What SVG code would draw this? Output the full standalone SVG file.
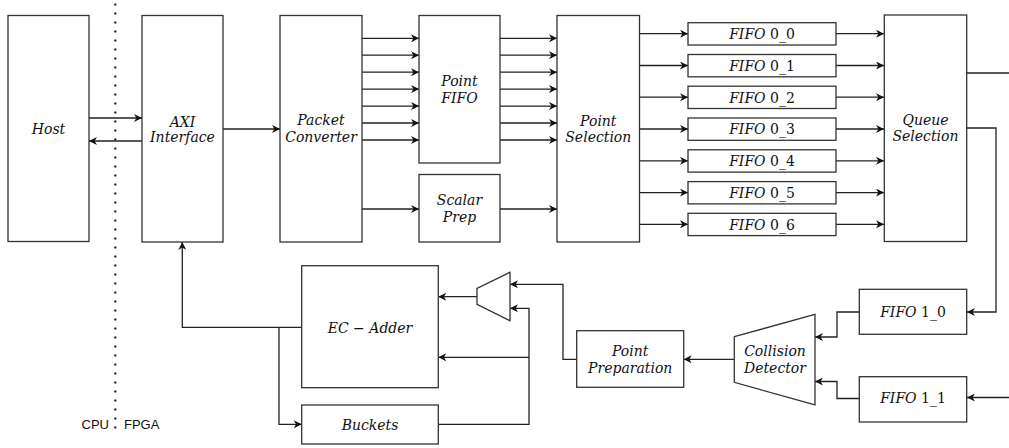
<svg xmlns="http://www.w3.org/2000/svg" width="1009" height="448" viewBox="0 0 1009 448">
  <style>
    .box { fill: #ffffff; stroke: #333333; stroke-width: 1.3; }
    .wire { fill: none; stroke: #222222; stroke-width: 1.3; }
    .arr { marker-end: url(#head); }
    .lbl { font-family: "DejaVu Serif", "Liberation Serif", serif; font-style: italic; font-size: 14px; fill: #111111; text-anchor: middle; }
    .up { font-style: normal; }
    .side { font-family: "Liberation Sans", Arial, sans-serif; font-size: 13px; fill: #111111; }
  </style>
  <defs>
    <marker id="head" viewBox="0 0 10 10" refX="10" refY="5" markerWidth="9" markerHeight="8" markerUnits="userSpaceOnUse" orient="auto">
      <path d="M0,0 L10,5 L0,10 L3,5 z" fill="#111111"/>
    </marker>
  </defs>

  <!-- CPU / FPGA boundary -->
  <g id="boundary">
    <line x1="115.3" y1="3.5" x2="115.3" y2="434" stroke="#111111" stroke-width="2" stroke-dasharray="2 7"/>
    <text class="side" x="109" y="429" text-anchor="end">CPU</text>
    <text class="side" x="124" y="429">FPGA</text>
  </g>

  <!-- connectors -->
  <g id="connectors">
    <path class="wire arr" d="M89,118 H142"/>
    <path class="wire arr" d="M142,141 H89"/>
    <path class="wire arr" d="M223,129 H280"/>
    <!-- packet converter to point fifo, point fifo to point selection -->
    <path class="wire arr" d="M362,38.3 H419"/>
    <path class="wire arr" d="M362,55.2 H419"/>
    <path class="wire arr" d="M362,72.2 H419"/>
    <path class="wire arr" d="M362,89.1 H419"/>
    <path class="wire arr" d="M362,106.1 H419"/>
    <path class="wire arr" d="M362,123 H419"/>
    <path class="wire arr" d="M362,140 H419"/>
    <path class="wire arr" d="M500,38.3 H557"/>
    <path class="wire arr" d="M500,55.2 H557"/>
    <path class="wire arr" d="M500,72.2 H557"/>
    <path class="wire arr" d="M500,89.1 H557"/>
    <path class="wire arr" d="M500,106.1 H557"/>
    <path class="wire arr" d="M500,123 H557"/>
    <path class="wire arr" d="M500,140 H557"/>
    <path class="wire arr" d="M362,209 H419"/>
    <path class="wire arr" d="M500,209 H557"/>
    <!-- point selection to fifo 0_x to queue selection -->
    <path class="wire arr" d="M640,33.7 H688"/>
    <path class="wire arr" d="M640,65.5 H688"/>
    <path class="wire arr" d="M640,97.2 H688"/>
    <path class="wire arr" d="M640,129 H688"/>
    <path class="wire arr" d="M640,160.8 H688"/>
    <path class="wire arr" d="M640,192.6 H688"/>
    <path class="wire arr" d="M640,224.3 H688"/>
    <path class="wire arr" d="M836,33.7 H884"/>
    <path class="wire arr" d="M836,65.5 H884"/>
    <path class="wire arr" d="M836,97.2 H884"/>
    <path class="wire arr" d="M836,129 H884"/>
    <path class="wire arr" d="M836,160.8 H884"/>
    <path class="wire arr" d="M836,192.6 H884"/>
    <path class="wire arr" d="M836,224.3 H884"/>
    <!-- queue selection outputs -->
    <path class="wire" d="M966,73 H1010"/>
    <path class="wire arr" d="M966,128 H996 V312 H967"/>
    <path class="wire arr" d="M1010,397.5 H967"/>
    <!-- second-level fifos into collision detector -->
    <path class="wire arr" d="M859,312 H837 V337 H815"/>
    <path class="wire arr" d="M859,398.5 H837 V381.5 H815"/>
    <path class="wire arr" d="M734.3,359.3 H683.7"/>
    <path class="wire arr" d="M576.7,359.3 H563 V284.3 H510"/>
    <path class="wire arr" d="M477,296.7 H438.3"/>
    <!-- bucket feedback -->
    <path class="wire arr" d="M438.3,424.3 H529 V308.3 H510"/>
    <path class="wire arr" d="M529,357.3 H438.3"/>
    <!-- adder results -->
    <path class="wire arr" d="M301.7,327.3 H182.3 V242"/>
    <path class="wire arr" d="M279,327.3 V424.3 H301.7"/>
  </g>

  <g id="host">
    <rect class="box" x="8" y="15.5" width="81" height="226"/>
    <text class="lbl" x="48.5" y="134">Host</text>
  </g>
  <g id="axi-interface">
    <rect class="box" x="142" y="15.5" width="81" height="226.5"/>
    <text class="lbl" x="182.5" y="126.5">AXI</text>
    <text class="lbl" x="182.5" y="142">Interface</text>
  </g>
  <g id="packet-converter">
    <rect class="box" x="280" y="15.5" width="82" height="226.5"/>
    <text class="lbl" x="321" y="125">Packet</text>
    <text class="lbl" x="321" y="141.5">Converter</text>
  </g>
  <g id="point-fifo">
    <rect class="box" x="419" y="15.5" width="81" height="147.5"/>
    <text class="lbl" x="459.5" y="86">Point</text>
    <text class="lbl" x="459.5" y="102.5">FIFO</text>
  </g>
  <g id="scalar-prep">
    <rect class="box" x="419" y="174.5" width="81" height="67.5"/>
    <text class="lbl" x="459.5" y="205">Scalar</text>
    <text class="lbl" x="459.5" y="221.5">Prep</text>
  </g>
  <g id="point-selection">
    <rect class="box" x="557" y="15.5" width="82.5" height="226.5"/>
    <text class="lbl" x="598.3" y="125.5">Point</text>
    <text class="lbl" x="598.3" y="141.5">Selection</text>
  </g>
  <g id="fifo-0-0">
    <rect class="box" x="688" y="22.7" width="148" height="22.3"/>
    <text class="lbl" x="762" y="39">FIFO <tspan class="up">0_0</tspan></text>
  </g>
  <g id="fifo-0-1">
    <rect class="box" x="688" y="54.5" width="148" height="22.3"/>
    <text class="lbl" x="762" y="70.8">FIFO <tspan class="up">0_1</tspan></text>
  </g>
  <g id="fifo-0-2">
    <rect class="box" x="688" y="86.2" width="148" height="22.3"/>
    <text class="lbl" x="762" y="102.5">FIFO <tspan class="up">0_2</tspan></text>
  </g>
  <g id="fifo-0-3">
    <rect class="box" x="688" y="118" width="148" height="22.3"/>
    <text class="lbl" x="762" y="134.3">FIFO <tspan class="up">0_3</tspan></text>
  </g>
  <g id="fifo-0-4">
    <rect class="box" x="688" y="149.8" width="148" height="22.3"/>
    <text class="lbl" x="762" y="166.1">FIFO <tspan class="up">0_4</tspan></text>
  </g>
  <g id="fifo-0-5">
    <rect class="box" x="688" y="181.6" width="148" height="22.3"/>
    <text class="lbl" x="762" y="197.9">FIFO <tspan class="up">0_5</tspan></text>
  </g>
  <g id="fifo-0-6">
    <rect class="box" x="688" y="213.3" width="148" height="22.3"/>
    <text class="lbl" x="762" y="229.6">FIFO <tspan class="up">0_6</tspan></text>
  </g>
  <g id="queue-selection">
    <rect class="box" x="884.3" y="15" width="82.4" height="226.5"/>
    <text class="lbl" x="925.5" y="125">Queue</text>
    <text class="lbl" x="925.5" y="141">Selection</text>
  </g>
  <g id="fifo-1-0">
    <rect class="box" x="859.3" y="289.3" width="107.4" height="45"/>
    <text class="lbl" x="913" y="317">FIFO <tspan class="up">1_0</tspan></text>
  </g>
  <g id="fifo-1-1">
    <rect class="box" x="859.3" y="376.7" width="107.4" height="45.3"/>
    <text class="lbl" x="913" y="403">FIFO <tspan class="up">1_1</tspan></text>
  </g>
  <g id="collision-detector">
    <polygon class="box" points="734.3,336.7 815,314.3 815,405 734.3,382.3"/>
    <text class="lbl" x="775" y="356">Collision</text>
    <text class="lbl" x="775" y="372.5">Detector</text>
  </g>
  <g id="point-preparation">
    <rect class="box" x="576.7" y="330.7" width="107" height="56.6"/>
    <text class="lbl" x="630.2" y="356">Point</text>
    <text class="lbl" x="630.2" y="372.5">Preparation</text>
  </g>
  <g id="mux">
    <polygon class="box" points="510,272.3 510,320.7 477,304.3 477,288.3"/>
  </g>
  <g id="ec-adder">
    <rect class="box" x="301.7" y="265.7" width="136.6" height="122"/>
    <text class="lbl" x="370" y="332.5">EC <tspan class="up">−</tspan> Adder</text>
  </g>
  <g id="buckets">
    <rect class="box" x="301.7" y="405" width="136.6" height="39"/>
    <text class="lbl" x="370" y="429.5">Buckets</text>
  </g>
</svg>
